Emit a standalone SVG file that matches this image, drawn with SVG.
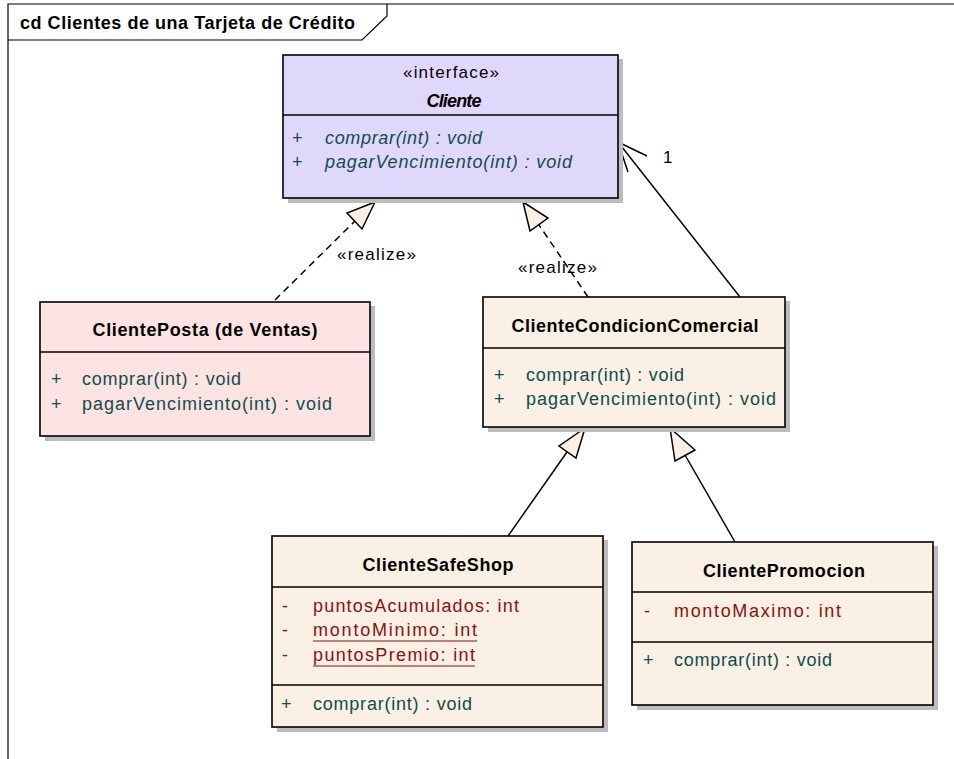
<svg xmlns="http://www.w3.org/2000/svg" width="954" height="759" viewBox="0 0 954 759">
  <defs>
    <style>
      text { font-family: "Liberation Sans", Arial, sans-serif; font-size: 18px; }
      .title { font-weight: bold; fill: #000; }
      .cls { font-weight: bold; fill: #000; text-anchor: middle; }
      .stereo { fill: #000; text-anchor: middle; font-size: 17px; }
      .op { fill: #114d4d; }
      .opi { fill: #114d4d; font-style: italic; }
      .attr { fill: #8b1010; }
      .lbl { fill: #000; font-size: 17px; }
      .box { stroke: #000; stroke-width: 1.6; }
      .shadow { fill: #bdbdbd; }
      .sep { stroke: #000; stroke-width: 1.3; }
      .iface { fill: #e0d8fb; }
      .posta { fill: #fde3e1; }
      .beige { fill: #faf0e3; }
      .conn { fill: none; stroke: #000; stroke-width: 1.5; }
      .dash { stroke-dasharray: 7 5; }
      .tri { fill: #faf0e3; stroke: #000; stroke-width: 1.5; stroke-linejoin: miter; }
      .ul { stroke: #8b1010; stroke-width: 1.2; }
    </style>
  </defs>

  <rect width="954" height="759" fill="#fff"/>

  <!-- diagram frame with name tab -->
  <g id="frame">
    <path d="M8,759 V4 H954" fill="none" stroke="#000" stroke-width="1.2"/>
    <path d="M8,40 H362 L387,16 V4" fill="none" stroke="#000" stroke-width="1.2"/>
    <text class="title" x="20" y="29" textLength="335" lengthAdjust="spacing">cd Clientes de una Tarjeta de Crédito</text>
  </g>

  <!-- connectors -->
  <g id="connectors">
    <!-- ClientePosta realizes Cliente -->
    <line class="conn dash" x1="275" y1="300" x2="355" y2="221"/>
    <polygon class="tri" points="375,202 347,213 362,229"/>
    <text class="lbl" x="337" y="260" textLength="79" lengthAdjust="spacing">«realize»</text>

    <!-- ClienteCondicionComercial realizes Cliente -->
    <line class="conn dash" x1="588" y1="297" x2="539" y2="225"/>
    <polygon class="tri" points="523,202 530,231 548,218"/>
    <text class="lbl" x="518" y="273" textLength="79" lengthAdjust="spacing">«realize»</text>

    <!-- association ClienteCondicionComercial -> Cliente -->
    <line class="conn" x1="740" y1="297" x2="618" y2="142"/>
    <polyline class="conn" points="647,156 618,142 628,172"/>
    <text class="lbl" x="663" y="163">1</text>

    <!-- ClienteSafeShop generalizes ClienteCondicionComercial -->
    <line class="conn" x1="508" y1="536" x2="567" y2="452"/>
    <polygon class="tri" points="585,428 559,446 576,458"/>

    <!-- ClientePromocion generalizes ClienteCondicionComercial -->
    <line class="conn" x1="735" y1="542" x2="685" y2="455"/>
    <polygon class="tri" points="670,428 675,461 695,450"/>
  </g>

  <!-- interface Cliente -->
  <g id="cliente">
    <rect class="shadow" x="288" y="59" width="335" height="144"/>
    <rect class="box iface" x="283" y="55" width="335" height="143"/>
    <line class="sep" x1="283" y1="115" x2="618" y2="115"/>
    <text class="stereo" x="451" y="78" textLength="96" lengthAdjust="spacing">«interface»</text>
    <text class="cls" x="454" y="107" font-style="italic" textLength="55" lengthAdjust="spacing">Cliente</text>
    <text class="op" x="292" y="144">+</text>
    <text class="opi" x="325" y="144" textLength="157" lengthAdjust="spacing">comprar(int) : void</text>
    <text class="op" x="292" y="168">+</text>
    <text class="opi" x="325" y="168" textLength="247" lengthAdjust="spacing">pagarVencimiento(int) : void</text>
  </g>

  <!-- class ClientePosta (de Ventas) -->
  <g id="clienteposta">
    <rect class="shadow" x="45" y="306" width="330" height="135"/>
    <rect class="box posta" x="40" y="302" width="330" height="134"/>
    <line class="sep" x1="40" y1="352" x2="370" y2="352"/>
    <text class="cls" x="205" y="336" textLength="225" lengthAdjust="spacing">ClientePosta (de Ventas)</text>
    <text class="op" x="51" y="385">+</text>
    <text class="op" x="82" y="385" textLength="159" lengthAdjust="spacing">comprar(int) : void</text>
    <text class="op" x="51" y="410">+</text>
    <text class="op" x="82" y="410" textLength="250" lengthAdjust="spacing">pagarVencimiento(int) : void</text>
  </g>

  <!-- class ClienteCondicionComercial -->
  <g id="clientecondicioncomercial">
    <rect class="shadow" x="488" y="301" width="302" height="131"/>
    <rect class="box beige" x="483" y="297" width="302" height="130"/>
    <line class="sep" x1="483" y1="348" x2="785" y2="348"/>
    <text class="cls" x="635" y="332" textLength="247" lengthAdjust="spacing">ClienteCondicionComercial</text>
    <text class="op" x="494" y="381">+</text>
    <text class="op" x="526" y="381" textLength="158" lengthAdjust="spacing">comprar(int) : void</text>
    <text class="op" x="494" y="405">+</text>
    <text class="op" x="526" y="405" textLength="250" lengthAdjust="spacing">pagarVencimiento(int) : void</text>
  </g>

  <!-- class ClienteSafeShop -->
  <g id="clientesafeshop">
    <rect class="shadow" x="277" y="540" width="331" height="192"/>
    <rect class="box beige" x="272" y="536" width="331" height="191"/>
    <line class="sep" x1="272" y1="587" x2="603" y2="587"/>
    <line class="sep" x1="272" y1="685" x2="603" y2="685"/>
    <text class="cls" x="438" y="571" textLength="151" lengthAdjust="spacing">ClienteSafeShop</text>
    <text class="attr" x="282" y="612">-</text>
    <text class="attr" x="313" y="612" textLength="206" lengthAdjust="spacing">puntosAcumulados:  int</text>
    <text class="attr" x="282" y="636">-</text>
    <text class="attr" x="313" y="636" textLength="164" lengthAdjust="spacing">montoMinimo:  int</text>
    <line class="ul" x1="313" y1="641" x2="477" y2="641"/>
    <text class="attr" x="282" y="661">-</text>
    <text class="attr" x="313" y="661" textLength="162" lengthAdjust="spacing">puntosPremio:  int</text>
    <line class="ul" x1="313" y1="666" x2="475" y2="666"/>
    <text class="op" x="281" y="710">+</text>
    <text class="op" x="313" y="710" textLength="159" lengthAdjust="spacing">comprar(int) : void</text>
  </g>

  <!-- class ClientePromocion -->
  <g id="clientepromocion">
    <rect class="shadow" x="637" y="546" width="301" height="164"/>
    <rect class="box beige" x="632" y="542" width="301" height="163"/>
    <line class="sep" x1="632" y1="592" x2="933" y2="592"/>
    <line class="sep" x1="632" y1="642" x2="933" y2="642"/>
    <text class="cls" x="784" y="577" textLength="162" lengthAdjust="spacing">ClientePromocion</text>
    <text class="attr" x="644" y="617">-</text>
    <text class="attr" x="674" y="617" textLength="167" lengthAdjust="spacing">montoMaximo:  int</text>
    <text class="op" x="643" y="666">+</text>
    <text class="op" x="674" y="666" textLength="158" lengthAdjust="spacing">comprar(int) : void</text>
  </g>
</svg>
